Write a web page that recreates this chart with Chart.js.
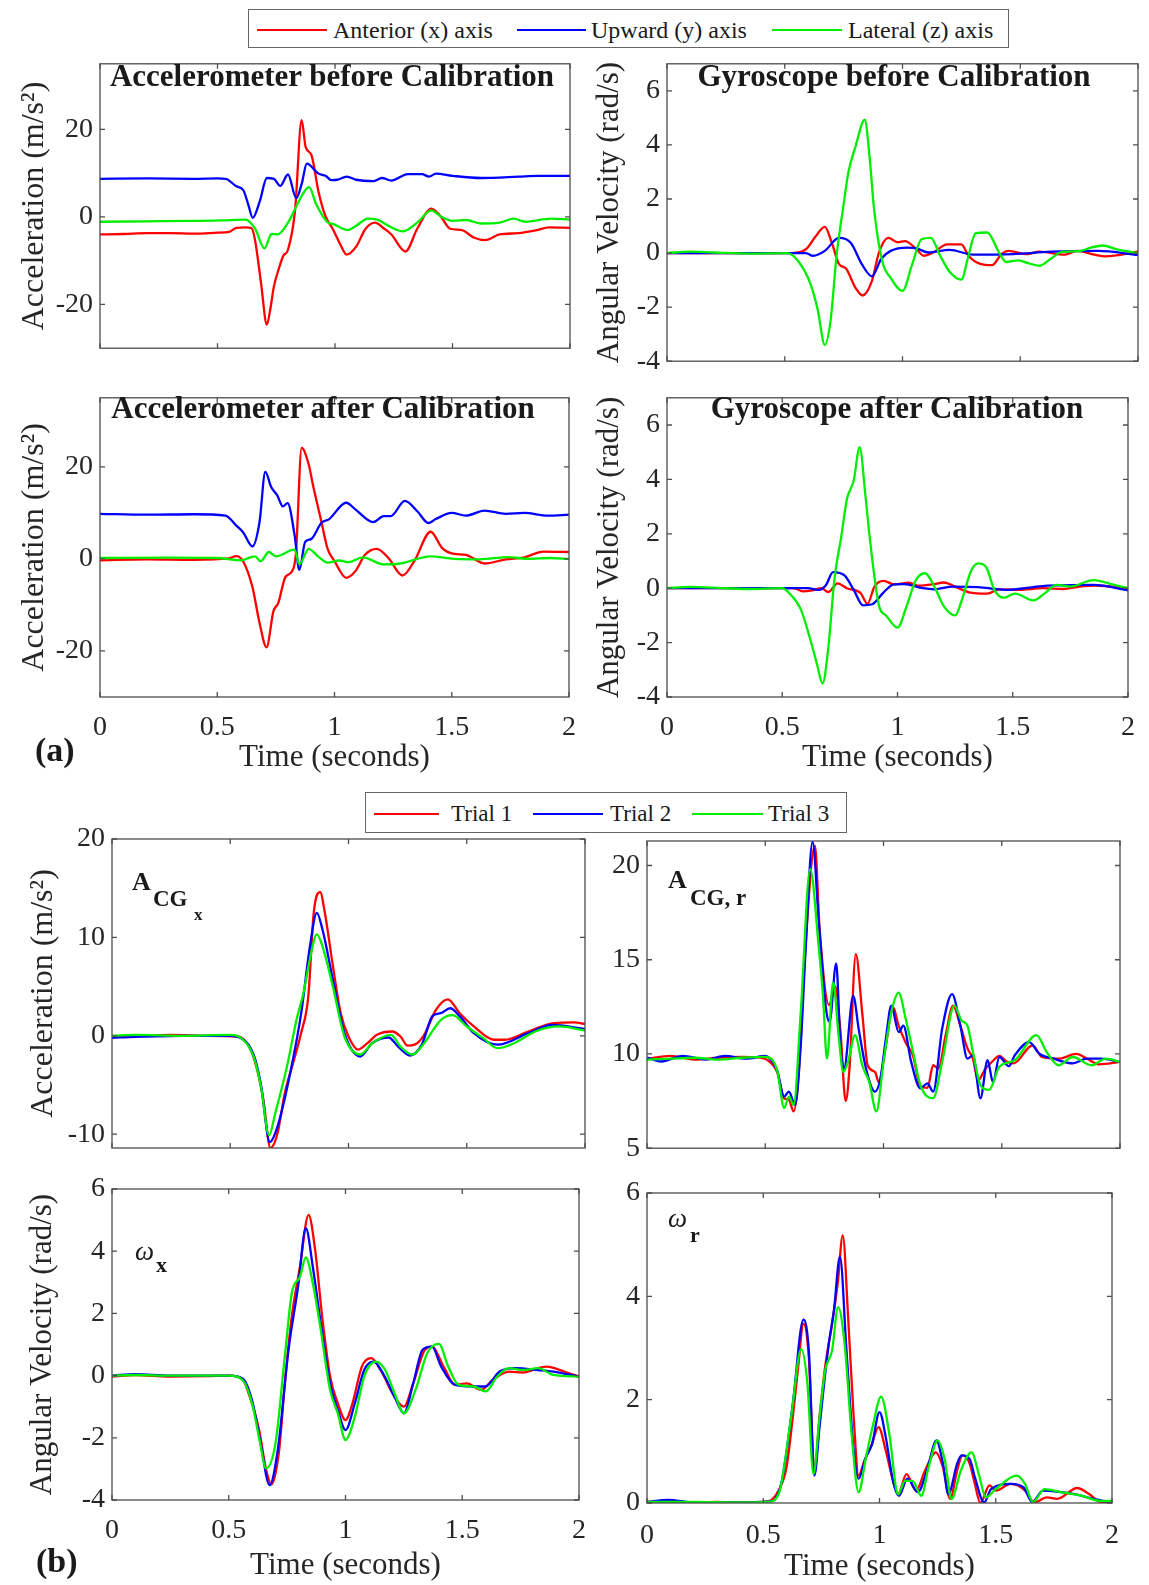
<!DOCTYPE html>
<html>
<head>
<meta charset="utf-8">
<script src="https://cdn.jsdelivr.net/npm/chart.js@4.4.1/dist/chart.umd.min.js"></script>
<style>
  body { margin: 0; background: #fff; }
  #page { position: relative; width: 1149px; height: 1585px; overflow: hidden; background: #fff;
          font-family: "Liberation Serif", "Times New Roman", serif; color: #1a1a1a; }
  .pane { position: absolute; }
  .txt { position: absolute; line-height: 1; white-space: nowrap; z-index: 5; }
  .title { font-weight: bold; font-size: 31px; transform: translateX(-50%); }
  .legend { position: absolute; border: 1px solid #666; background: #fff; z-index: 6; }
  .legend .ln { position: absolute; height: 2px; }
  .legend .lt { position: absolute; line-height: 1; white-space: nowrap; color: #1a1a1a; }
</style>
</head>
<body>
<div id="page">
  <!-- legend (a) -->
  <div class="legend" style="left:248px; top:9px; width:759px; height:37px;">
    <div class="ln" style="left:8px; top:19px; width:70px; background:#ff0000;"></div>
    <div class="lt" style="left:84px; top:8px; font-size:24px;">Anterior (x) axis</div>
    <div class="ln" style="left:268px; top:19px; width:69px; background:#0000ff;"></div>
    <div class="lt" style="left:342px; top:8px; font-size:24px;">Upward (y) axis</div>
    <div class="ln" style="left:523px; top:19px; width:70px; background:#00ee00;"></div>
    <div class="lt" style="left:599px; top:8px; font-size:24px;">Lateral (z) axis</div>
  </div>
  <!-- legend (b) -->
  <div class="legend" style="left:365px; top:792px; width:480px; height:39px;">
    <div class="ln" style="left:8px; top:20px; width:65px; background:#ff0000;"></div>
    <div class="lt" style="left:85px; top:9px; font-size:23px;">Trial 1</div>
    <div class="ln" style="left:167px; top:20px; width:70px; background:#0000ff;"></div>
    <div class="lt" style="left:244px; top:9px; font-size:23px;">Trial 2</div>
    <div class="ln" style="left:326px; top:20px; width:71px; background:#00ee00;"></div>
    <div class="lt" style="left:402px; top:9px; font-size:23px;">Trial 3</div>
  </div>

  <div class="txt title" style="left:332px; top:60px;">Accelerometer before Calibration</div>
  <div class="txt title" style="left:894px; top:60px;">Gyroscope before Calibration</div>
  <div class="txt title" style="left:323px; top:392px;">Accelerometer after Calibration</div>
  <div class="txt title" style="left:897px; top:392px;">Gyroscope after Calibration</div>

  <div class="txt" style="left:35px; top:733px; font-size:34px; font-weight:bold;">(a)</div>
  <div class="txt" style="left:36px; top:1544px; font-size:34px; font-weight:bold;">(b)</div>

  <div class="txt" style="left:132px; top:869px; font-size:26px; font-weight:bold;">A</div>
  <div class="txt" style="left:153px; top:887px; font-size:23px; font-weight:bold;">CG</div>
  <div class="txt" style="left:194px; top:906px; font-size:17px; font-weight:bold;">x</div>

  <div class="txt" style="left:668px; top:867px; font-size:26px; font-weight:bold;">A</div>
  <div class="txt" style="left:690px; top:886px; font-size:23px; font-weight:bold;">CG, r</div>

  <div class="txt" style="left:135px; top:1238px; font-size:27px; font-style:italic;">ω</div>
  <div class="txt" style="left:156px; top:1254px; font-size:22px; font-weight:bold;">x</div>

  <div class="txt" style="left:668px; top:1205px; font-size:27px; font-style:italic;">ω</div>
  <div class="txt" style="left:690px; top:1224px; font-size:22px; font-weight:bold;">r</div>
</div>

<script>
// ---- data, [time (s), value] ----
const timeTicks = [0, 0.5, 1, 1.5, 2];

// (a) accelerometer before calibration (m/s^2)
const accBeforeAnt = [[0,-4.0],[0.1,-3.9],[0.2,-3.7],[0.3,-3.7],[0.4,-3.8],[0.5,-3.6],[0.55,-3.4],[0.58,-2.5],[0.62,-2.4],[0.645,-2.6],[0.66,-5.4],[0.685,-15],[0.71,-24.6],[0.725,-21],[0.74,-15.9],[0.76,-12],[0.78,-8.9],[0.80,-7.5],[0.83,1.5],[0.858,22.1],[0.875,16],[0.90,14.1],[0.93,5.7],[0.96,0.1],[0.99,-2.7],[1.02,-6],[1.05,-8.6],[1.09,-6.8],[1.13,-2.7],[1.17,-1.3],[1.21,-2.7],[1.24,-4],[1.30,-7.9],[1.35,-2.7],[1.41,1.9],[1.45,0.1],[1.49,-2.7],[1.54,-3],[1.59,-4.7],[1.64,-5.3],[1.70,-4],[1.78,-3.7],[1.86,-3],[1.91,-2.4],[2.0,-2.5]];
const accBeforeUp = [[0,8.7],[0.2,8.8],[0.4,8.7],[0.5,8.8],[0.535,8.7],[0.58,7],[0.61,6.1],[0.63,3],[0.65,-0.2],[0.68,3.6],[0.71,8.9],[0.74,8.7],[0.767,7.1],[0.80,9.7],[0.835,4.3],[0.858,7.5],[0.88,12.2],[0.93,9.9],[0.96,9.4],[0.985,8.4],[1.01,8.5],[1.05,9.2],[1.09,8.5],[1.165,8.2],[1.2,8.9],[1.24,8.3],[1.31,9.8],[1.37,9.8],[1.40,9.2],[1.43,9.9],[1.50,9.4],[1.62,8.9],[1.78,9.2],[1.86,9.4],[2.0,9.4]];
const accBeforeLat = [[0,-1.1],[0.2,-1.0],[0.4,-0.9],[0.52,-0.8],[0.62,-0.6],[0.66,-2.7],[0.70,-7.2],[0.73,-3.9],[0.756,-4],[0.80,-1.3],[0.84,2.9],[0.866,5.5],[0.89,6.8],[0.92,2.9],[0.97,-1.3],[0.99,-1.6],[1.055,-3],[1.09,-2],[1.14,-0.4],[1.18,-0.6],[1.23,-2.1],[1.29,-3.3],[1.35,-1.3],[1.41,1.5],[1.45,0.1],[1.50,-0.9],[1.56,-0.7],[1.62,-1.5],[1.70,-1.3],[1.76,-0.4],[1.81,-1.1],[1.92,-0.4],[2.0,-0.6]];

// (a) gyroscope before calibration (rad/s)
const gyroBeforeAnt = [[0,0],[0.3,0],[0.53,0],[0.59,0.14],[0.63,0.6],[0.67,0.97],[0.70,0.38],[0.73,-0.4],[0.76,-0.57],[0.80,-1.28],[0.83,-1.57],[0.87,-1.04],[0.90,0.02],[0.94,0.56],[0.98,0.4],[1.01,0.44],[1.06,0.14],[1.09,-0.1],[1.13,0.02],[1.19,0.32],[1.25,0.32],[1.28,-0.1],[1.33,-0.4],[1.38,-0.45],[1.42,-0.04],[1.45,0.08],[1.53,-0.04],[1.58,0.05],[1.69,-0.06],[1.74,0.08],[1.82,-0.07],[1.86,-0.12],[2.0,0.05]];
const gyroBeforeUp = [[0,0],[0.3,0],[0.59,0],[0.62,-0.1],[0.67,0.08],[0.73,0.56],[0.78,0.38],[0.83,-0.45],[0.87,-0.86],[0.91,-0.21],[0.95,0.08],[1.02,0.2],[1.06,0.17],[1.11,0.02],[1.20,0.12],[1.30,-0.06],[1.47,-0.04],[1.63,0.05],[1.83,0.08],[2.0,-0.07]];
const gyroBeforeLat = [[0,0],[0.1,0.05],[0.2,0.02],[0.35,-0.02],[0.51,0],[0.56,-0.33],[0.61,-1.16],[0.64,-2.1],[0.67,-3.4],[0.695,-2.46],[0.72,-0.1],[0.75,1.8],[0.77,2.98],[0.80,3.93],[0.84,4.93],[0.86,3.57],[0.88,1.56],[0.915,-0.33],[0.95,-0.92],[1.0,-1.4],[1.04,-0.45],[1.08,0.5],[1.12,0.56],[1.16,-0.1],[1.20,-0.69],[1.25,-0.98],[1.28,-0.1],[1.31,0.73],[1.36,0.76],[1.41,0.02],[1.44,-0.33],[1.49,-0.27],[1.53,-0.36],[1.58,-0.47],[1.63,-0.21],[1.68,0.05],[1.75,0.07],[1.80,0.2],[1.85,0.28],[1.91,0.14],[2.0,0]];

// (a) accelerometer after calibration
const accAfterAnt = [[0,-0.3],[0.2,-0.1],[0.4,-0.2],[0.55,0.1],[0.58,0.6],[0.61,-0.5],[0.65,-6.1],[0.68,-13.8],[0.71,-19.2],[0.74,-11.3],[0.76,-9.6],[0.79,-4],[0.82,-2.6],[0.835,0.9],[0.86,24.1],[0.89,20.5],[0.91,15.6],[0.945,7.9],[0.97,2.3],[1.0,-0.5],[1.05,-4.1],[1.09,-2.6],[1.13,0.9],[1.18,2.2],[1.23,0.2],[1.29,-3.6],[1.34,-0.5],[1.41,5.9],[1.46,2.3],[1.51,1.1],[1.56,0.9],[1.64,-1.0],[1.73,-0.1],[1.81,0.35],[1.89,1.6],[2.0,1.5]];
const accAfterUp = [[0,9.8],[0.2,9.6],[0.4,9.7],[0.535,9.4],[0.58,7.3],[0.61,5.8],[0.65,2.7],[0.68,7.9],[0.705,18.9],[0.73,15.6],[0.756,13.8],[0.78,11.4],[0.80,12.1],[0.83,5.1],[0.85,-2.4],[0.875,3.7],[0.90,4.3],[0.945,7.9],[0.976,8.6],[1.05,12.2],[1.09,10.7],[1.165,8],[1.21,9.3],[1.24,9.3],[1.30,12.6],[1.354,10.3],[1.40,7.8],[1.43,8.6],[1.50,10],[1.56,9.4],[1.64,10.5],[1.73,9.8],[1.81,10],[1.91,9.4],[2.0,9.6]];
const accAfterLat = [[0,0.2],[0.3,0.3],[0.5,0.2],[0.60,-0.3],[0.66,0.55],[0.685,-0.5],[0.72,1.5],[0.75,0.55],[0.83,2],[0.85,-1.2],[0.89,2.2],[0.93,0.55],[0.97,-0.8],[1.02,-0.35],[1.06,-0.7],[1.12,0.35],[1.21,-1.2],[1.28,-1],[1.41,0.55],[1.51,0],[1.62,-0.1],[1.74,0.4],[1.83,0],[1.92,0.2],[2.0,0]];

// (a) gyroscope after calibration
const gyroAfterAnt = [[0,0],[0.3,0],[0.55,0],[0.59,-0.12],[0.63,-0.08],[0.67,0],[0.70,-0.14],[0.74,0.18],[0.78,0],[0.84,-0.18],[0.87,-0.57],[0.90,0.06],[0.94,0.27],[0.985,0.14],[1.05,0.2],[1.09,0.09],[1.16,0.15],[1.2,0.21],[1.25,0.06],[1.31,-0.15],[1.39,-0.2],[1.44,-0.04],[1.53,-0.06],[1.63,0],[1.72,-0.03],[1.79,0.06],[1.86,0.1],[2.0,0]];
const gyroAfterUp = [[0,0],[0.3,0],[0.61,0],[0.66,-0.06],[0.69,0.12],[0.72,0.59],[0.77,0.47],[0.81,-0.06],[0.85,-0.63],[0.89,-0.59],[0.94,-0.15],[0.985,0.14],[1.03,0.15],[1.11,0],[1.16,-0.04],[1.24,0.06],[1.35,0.04],[1.47,-0.06],[1.63,0.08],[1.85,0.12],[2.0,-0.08]];
const gyroAfterLat = [[0,0],[0.1,0.05],[0.2,0.02],[0.35,-0.03],[0.5,0],[0.53,-0.18],[0.58,-0.77],[0.62,-1.83],[0.65,-2.77],[0.675,-3.5],[0.70,-2.18],[0.726,0.3],[0.757,1.95],[0.78,3.25],[0.81,3.96],[0.836,5.19],[0.86,3.48],[0.88,1.83],[0.92,-0.65],[0.95,-1.0],[1.0,-1.45],[1.04,-0.65],[1.08,0.3],[1.12,0.55],[1.16,0.06],[1.2,-0.65],[1.25,-1.0],[1.28,-0.41],[1.32,0.65],[1.35,0.91],[1.385,0.77],[1.42,-0.06],[1.46,-0.35],[1.51,-0.2],[1.59,-0.45],[1.64,-0.18],[1.69,0.12],[1.75,0.06],[1.85,0.3],[1.94,0.12],[2.0,0]];

// (b) A_CG,x per trial
const acgX1 = [[0,-0.1],[0.1,0],[0.25,0.1],[0.4,0],[0.53,-0.07],[0.58,-1.1],[0.61,-3.1],[0.64,-6.5],[0.67,-11.4],[0.70,-9.9],[0.73,-5.9],[0.77,-2.4],[0.80,0.3],[0.83,4],[0.853,12.5],[0.88,14.6],[0.90,12.5],[0.934,7.1],[0.967,2.3],[1.0,-0.07],[1.04,-1.4],[1.08,-0.75],[1.12,0.1],[1.185,0.44],[1.22,-0.07],[1.25,-1],[1.28,-0.9],[1.32,0.1],[1.37,2.65],[1.42,3.7],[1.47,2.3],[1.53,0.95],[1.615,-0.4],[1.66,-0.4],[1.76,0.44],[1.87,1.3],[1.955,1.36],[2.0,1.2]];
const acgX2 = [[0,-0.2],[0.1,-0.1],[0.3,0],[0.5,0],[0.55,-0.3],[0.6,-2],[0.63,-5],[0.667,-10.8],[0.70,-9.2],[0.756,-3.5],[0.80,2.3],[0.837,9.1],[0.866,12.5],[0.89,10.8],[0.934,5.7],[0.983,0.27],[1.05,-2.1],[1.10,-0.75],[1.17,-0.17],[1.21,-1.1],[1.26,-2],[1.31,-0.9],[1.355,2],[1.39,2.3],[1.43,2.8],[1.47,2],[1.53,0.27],[1.63,-0.9],[1.76,0.27],[1.86,1.1],[2.0,0.7]];
const acgX3 = [[0,0],[0.1,0.1],[0.3,0],[0.5,0.1],[0.55,-0.3],[0.6,-2.2],[0.63,-5.2],[0.664,-10.1],[0.69,-7.9],[0.74,-3.1],[0.78,1.6],[0.81,4.4],[0.837,7.8],[0.866,10.3],[0.89,9.1],[0.934,5],[0.983,-0.07],[1.05,-1.9],[1.10,-0.75],[1.18,0.1],[1.22,-1.1],[1.27,-1.9],[1.32,-0.75],[1.39,1.6],[1.44,2.1],[1.50,0.95],[1.57,-0.24],[1.63,-1.26],[1.70,-0.75],[1.79,0.44],[1.89,0.95],[2.0,0.54]];

// (b) A_CG,r per trial
const acgR1 = [[0,9.75],[0.1,9.9],[0.2,9.7],[0.3,9.8],[0.4,9.85],[0.48,9.8],[0.51,9.67],[0.55,9.05],[0.58,7.65],[0.60,7.57],[0.62,6.95],[0.64,8.7],[0.67,15.7],[0.71,21.05],[0.73,16.6],[0.77,12.6],[0.795,13.6],[0.818,11.2],[0.84,7.5],[0.856,9.2],[0.883,15.3],[0.91,12.2],[0.933,9.4],[0.964,9.05],[0.98,8.5],[1.01,10.45],[1.04,12.5],[1.064,11.5],[1.094,10.6],[1.125,9.9],[1.156,8.27],[1.186,8.2],[1.21,9.4],[1.232,9.23],[1.263,11],[1.294,12.56],[1.325,11.5],[1.355,10.3],[1.378,9.75],[1.40,8.6],[1.43,9.2],[1.46,9.6],[1.49,9.9],[1.52,9.6],[1.55,9.5],[1.63,10.45],[1.67,9.84],[1.74,9.75],[1.816,10],[1.86,9.75],[1.91,9.45],[2.0,9.58]];
const acgR2 = [[0,9.8],[0.06,9.6],[0.15,9.9],[0.25,9.7],[0.33,9.9],[0.42,9.75],[0.5,9.9],[0.52,9.75],[0.55,9.14],[0.58,7.74],[0.60,8],[0.626,7.3],[0.65,10.45],[0.67,15.36],[0.70,21.26],[0.726,17.1],[0.757,12.4],[0.772,11.7],[0.80,14.8],[0.818,10.45],[0.833,9.23],[0.872,13.08],[0.895,11.33],[0.926,9.23],[0.964,8],[0.987,8.7],[1.01,10.8],[1.033,12.56],[1.064,11.16],[1.084,11.5],[1.117,9.58],[1.156,8.18],[1.186,8.44],[1.21,8],[1.248,11.33],[1.29,13.17],[1.325,11.5],[1.355,9.75],[1.378,9.93],[1.41,7.65],[1.44,9.67],[1.463,8.5],[1.49,9.84],[1.53,9.35],[1.555,9.93],[1.616,10.63],[1.66,10],[1.72,9.75],[1.80,9.5],[1.86,9.75],[1.92,9.75],[2.0,9.58]];
const acgR3 = [[0,9.7],[0.1,9.75],[0.2,9.8],[0.3,9.7],[0.4,9.8],[0.5,9.85],[0.55,9.14],[0.58,7.13],[0.60,7.74],[0.62,7.3],[0.65,12.2],[0.69,19.8],[0.726,15.7],[0.744,13.1],[0.761,9.75],[0.787,13.8],[0.81,11],[0.83,9.05],[0.85,9.58],[0.88,11],[0.91,9.4],[0.94,8.5],[0.97,6.95],[1.0,9.58],[1.033,12.2],[1.064,13.26],[1.094,11.86],[1.125,10.1],[1.156,8.35],[1.21,7.65],[1.248,9.58],[1.30,12.56],[1.33,11.77],[1.355,11.5],[1.378,10.1],[1.41,8.35],[1.447,8.1],[1.49,9.32],[1.555,9.67],[1.647,11],[1.69,10.1],[1.74,9.4],[1.80,9.84],[1.88,9.4],[1.94,9.75],[2.0,9.58]];

// (b) omega_x per trial
const omegaX1 = [[0,-0.03],[0.1,0.02],[0.25,-0.03],[0.4,-0.02],[0.5,0],[0.56,-0.14],[0.59,-0.68],[0.63,-1.75],[0.66,-3.03],[0.683,-3.5],[0.716,-2.39],[0.74,-0.25],[0.77,1.9],[0.805,3.5],[0.842,5.17],[0.87,4.04],[0.90,1.9],[0.934,-0.03],[0.967,-0.89],[1.0,-1.43],[1.03,-0.89],[1.07,0.29],[1.11,0.56],[1.15,0.18],[1.21,-0.68],[1.25,-1.0],[1.29,-0.25],[1.34,0.83],[1.37,0.93],[1.42,0.29],[1.47,-0.3],[1.52,-0.25],[1.58,-0.46],[1.63,-0.14],[1.70,0.13],[1.76,0.1],[1.825,0.24],[1.86,0.29],[1.955,0.08],[2.0,-0.03]];
const omegaX2 = [[0,0],[0.1,0.05],[0.25,0],[0.4,0],[0.5,0],[0.56,-0.1],[0.60,-0.8],[0.635,-2.1],[0.675,-3.52],[0.71,-2.39],[0.756,0.83],[0.797,2.86],[0.83,4.74],[0.86,3.5],[0.894,1.68],[0.934,-0.25],[0.967,-1.1],[1.0,-1.75],[1.04,-0.89],[1.08,0.18],[1.12,0.45],[1.16,0.08],[1.21,-0.68],[1.25,-1.21],[1.29,-0.25],[1.33,0.83],[1.37,0.93],[1.41,0.29],[1.47,-0.3],[1.55,-0.35],[1.60,-0.35],[1.66,0.13],[1.73,0.24],[1.825,0.18],[1.89,0.13],[2.0,-0.03]];
const omegaX3 = [[0,0],[0.1,0.02],[0.25,0],[0.4,0],[0.5,0],[0.56,-0.15],[0.60,-0.9],[0.63,-2.0],[0.66,-2.98],[0.70,-2.18],[0.74,0.61],[0.77,2.65],[0.805,3.18],[0.83,3.8],[0.86,2.97],[0.894,1.47],[0.934,-0.46],[0.967,-1.21],[1.0,-2.07],[1.04,-1.32],[1.08,-0.03],[1.13,0.45],[1.17,0.18],[1.21,-0.57],[1.25,-1.21],[1.30,-0.46],[1.35,0.72],[1.40,1.02],[1.44,0.29],[1.485,-0.3],[1.55,-0.35],[1.60,-0.51],[1.65,-0.03],[1.70,0.24],[1.76,0.18],[1.825,0.24],[1.89,0.02],[2.0,-0.03]];

// (b) omega_r per trial
const omegaR1 = [[0,0.02],[0.1,0.03],[0.2,0.01],[0.3,0.02],[0.4,0.01],[0.52,0.03],[0.566,0.24],[0.6,0.69],[0.627,1.66],[0.65,2.63],[0.673,3.47],[0.696,2.82],[0.72,0.63],[0.742,1.66],[0.766,2.63],[0.796,3.47],[0.82,4.24],[0.842,5.18],[0.865,3.6],[0.889,1.66],[0.91,0.53],[0.935,0.82],[0.965,1.11],[0.996,1.47],[1.027,1.01],[1.058,0.43],[1.08,0.17],[1.116,0.56],[1.157,0.24],[1.196,0.63],[1.242,0.98],[1.273,0.69],[1.304,0.08],[1.334,0.63],[1.357,0.92],[1.388,0.76],[1.41,0.37],[1.434,0],[1.473,0.34],[1.50,0.24],[1.565,0.37],[1.626,0.24],[1.665,0.01],[1.72,0.11],[1.765,0.08],[1.85,0.29],[1.903,0.17],[1.95,0.02],[2.0,0.03]];
const omegaR2 = [[0,0.02],[0.09,0.06],[0.2,0.01],[0.35,0.01],[0.535,0.03],[0.58,0.43],[0.627,1.92],[0.673,3.55],[0.696,2.95],[0.72,0.53],[0.742,1.47],[0.78,3.02],[0.804,3.73],[0.83,4.77],[0.858,2.95],[0.889,1.01],[0.91,0.47],[0.942,0.89],[0.968,1.14],[1.0,1.76],[1.027,1.27],[1.058,0.43],[1.084,0.14],[1.12,0.47],[1.165,0.21],[1.204,0.63],[1.245,1.21],[1.273,0.76],[1.296,0.17],[1.334,0.76],[1.353,0.92],[1.388,0.85],[1.41,0.5],[1.45,0.01],[1.48,0.27],[1.565,0.37],[1.62,0.3],[1.657,0.02],[1.703,0.24],[1.84,0.17],[1.92,0.08],[2.0,0.01]];
const omegaR3 = [[0,0.02],[0.2,0.02],[0.4,0.01],[0.52,0.02],[0.566,0.17],[0.62,1.66],[0.663,2.98],[0.69,2.31],[0.716,0.56],[0.742,1.66],[0.766,2.56],[0.796,2.95],[0.822,3.79],[0.85,3.08],[0.88,1.34],[0.91,0.21],[0.942,0.89],[0.973,1.53],[1.007,2.06],[1.042,1.34],[1.08,0.17],[1.11,0.43],[1.142,0.43],[1.18,0.14],[1.211,0.69],[1.25,1.21],[1.28,0.85],[1.31,0.08],[1.35,0.63],[1.396,0.98],[1.427,0.56],[1.457,0.11],[1.50,0.27],[1.59,0.53],[1.626,0.37],[1.66,0.02],[1.71,0.27],[1.78,0.21],[1.87,0.14],[1.95,0.04],[2.0,0.04]];

// ---- drawing ----
const FONT = '"Liberation Serif", "Times New Roman", serif';
const RED = '#ff0000', BLUE = '#0000ff', GREEN = '#00ee00';
const ACC_TITLE = 'Acceleration (m/s²)';
const GYRO_TITLE = 'Angular Velocity (rad/s)';

// MATLAB-like box with inward ticks on all four sides
const boxPlugin = {
  id: 'matlabBox',
  afterDatasetsDraw(chart) {
    const { ctx, chartArea: a, scales: { x, y } } = chart;
    const len = 5;
    ctx.save();
    ctx.strokeStyle = '#4d4d4d';
    ctx.lineWidth = 1.3;
    ctx.strokeRect(a.left, a.top, a.right - a.left, a.bottom - a.top);
    ctx.beginPath();
    x.ticks.forEach(t => {
      const px = x.getPixelForValue(t.value);
      ctx.moveTo(px, a.bottom); ctx.lineTo(px, a.bottom - len);
      ctx.moveTo(px, a.top); ctx.lineTo(px, a.top + len);
    });
    y.ticks.forEach(t => {
      const py = y.getPixelForValue(t.value);
      ctx.moveTo(a.left, py); ctx.lineTo(a.left + len, py);
      ctx.moveTo(a.right, py); ctx.lineTo(a.right - len, py);
    });
    ctx.stroke();
    ctx.restore();
  }
};

function toPts(arr) { return arr.map(p => ({ x: p[0], y: p[1] })); }

function makePanel(p) {
  const w = p.canvas.r - p.canvas.l, h = p.canvas.b - p.canvas.t;
  const holder = document.createElement('div');
  holder.className = 'pane';
  holder.style.left = p.canvas.l + 'px';
  holder.style.top = p.canvas.t + 'px';
  holder.style.width = w + 'px';
  holder.style.height = h + 'px';
  const cv = document.createElement('canvas');
  cv.width = w; cv.height = h;
  cv.style.width = w + 'px'; cv.style.height = h + 'px';
  holder.appendChild(cv);
  document.getElementById('page').appendChild(holder);

  const colors = [RED, BLUE, GREEN];
  const datasets = p.series.map((s, i) => ({
    data: toPts(s),
    borderColor: colors[i],
    borderWidth: 2.3,
    pointRadius: 0,
    cubicInterpolationMode: 'monotone',
    fill: false,
    order: 3 - i
  }));

  new Chart(cv, {
    type: 'line',
    data: { datasets },
    plugins: [boxPlugin],
    options: {
      responsive: false,
      animation: false,
      devicePixelRatio: 1,
      layout: { padding: { left: 0, top: p.plot.T - p.canvas.t, right: p.canvas.r - p.plot.R, bottom: 0 } },
      plugins: { legend: { display: false }, tooltip: { enabled: false } },
      scales: {
        x: {
          type: 'linear', min: 0, max: 2,
          afterBuildTicks: s => { s.ticks = timeTicks.map(v => ({ value: v })); },
          afterFit: s => { s.height = p.canvas.b - p.plot.B; },
          grid: { display: false, drawTicks: false },
          border: { display: false },
          ticks: { display: p.showX, padding: p.xTickPad || 14, color: '#262626', maxRotation: 0, autoSkip: false,
                   font: { family: FONT, size: 28 }, callback: v => String(v) },
          title: { display: p.showX, text: 'Time (seconds)', color: '#262626',
                   font: { family: FONT, size: 31 }, padding: { top: 0, bottom: p.xTitlePad || 0 } }
        },
        y: {
          type: 'linear', min: p.yMin, max: p.yMax,
          afterBuildTicks: s => { s.ticks = p.yTicks.map(v => ({ value: v })); },
          afterFit: s => { s.width = p.plot.L - p.canvas.l; },
          grid: { display: false, drawTicks: false },
          border: { display: false },
          ticks: { padding: 7, color: '#262626', autoSkip: false,
                   font: { family: FONT, size: 28 }, callback: v => String(v) },
          title: { display: !!p.yTitle, text: p.yTitle || '', color: '#262626',
                   font: { family: FONT, size: p.yTitleSize || 31 }, padding: { top: p.yTitlePad || 0, bottom: 0 } }
        }
      }
    }
  });
}

makePanel({ canvas: { l: 0, t: 40, r: 585, b: 372 }, plot: { L: 100, T: 53, R: 570, B: 364 },
  yMin: -30, yMax: 35, yTicks: [-20, 0, 20], showX: false, yTitle: ACC_TITLE, yTitleSize: 32, yTitlePad: 15,
  series: [accBeforeAnt, accBeforeUp, accBeforeLat] });
makePanel({ canvas: { l: 578, t: 40, r: 1149, b: 385 }, plot: { L: 667, T: 53, R: 1138, B: 364 },
  yMin: -4, yMax: 7, yTicks: [-4, -2, 0, 2, 4, 6], showX: false, yTitle: GYRO_TITLE, yTitlePad: 13,
  series: [gyroBeforeAnt, gyroBeforeUp, gyroBeforeLat] });
makePanel({ canvas: { l: 0, t: 374, r: 590, b: 780 }, plot: { L: 100, T: 387, R: 570, B: 697 },
  yMin: -30, yMax: 35, yTicks: [-20, 0, 20], showX: true, xTitlePad: 4, yTitle: ACC_TITLE, yTitleSize: 32, yTitlePad: 15,
  series: [accAfterAnt, accAfterUp, accAfterLat] });
makePanel({ canvas: { l: 578, t: 374, r: 1149, b: 780 }, plot: { L: 667, T: 387, R: 1138, B: 697 },
  yMin: -4, yMax: 7, yTicks: [-4, -2, 0, 2, 4, 6], showX: true, xTitlePad: 4, yTitle: GYRO_TITLE, yTitlePad: 13,
  series: [gyroAfterAnt, gyroAfterUp, gyroAfterLat] });
makePanel({ canvas: { l: 0, t: 815, r: 600, b: 1172 }, plot: { L: 112, T: 839, R: 585, B: 1148 },
  yMin: -11.4, yMax: 20, yTicks: [-10, 0, 10, 20], showX: false, yTitle: ACC_TITLE, yTitleSize: 32, yTitlePad: 24,
  series: [acgX1, acgX2, acgX3] });
makePanel({ canvas: { l: 590, t: 815, r: 1135, b: 1172 }, plot: { L: 647, T: 841, R: 1120, B: 1150 },
  yMin: 5, yMax: 21.3, yTicks: [5, 10, 15, 20], showX: false,
  series: [acgR1, acgR2, acgR3] });
makePanel({ canvas: { l: 0, t: 1165, r: 600, b: 1585 }, plot: { L: 112, T: 1189, R: 585, B: 1500 },
  yMin: -4, yMax: 6, yTicks: [-4, -2, 0, 2, 4, 6], showX: true, xTitlePad: 1, yTitle: GYRO_TITLE, yTitlePad: 24,
  series: [omegaX1, omegaX2, omegaX3] });
makePanel({ canvas: { l: 590, t: 1165, r: 1135, b: 1585 }, plot: { L: 647, T: 1193, R: 1118, B: 1503 },
  yMin: 0, yMax: 6, yTicks: [0, 2, 4, 6], showX: true, xTickPad: 16, xTitlePad: 0,
  series: [omegaR1, omegaR2, omegaR3] });
</script>
</body>
</html>
